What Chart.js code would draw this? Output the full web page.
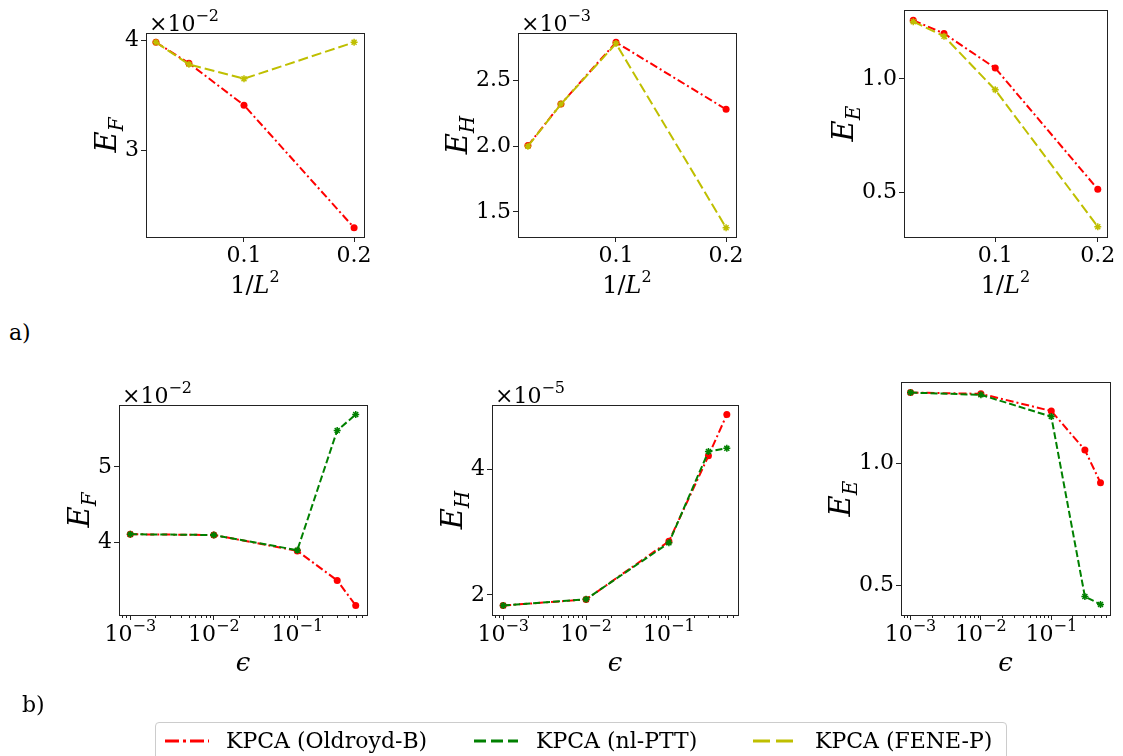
<!DOCTYPE html>
<html lang="en">
<head>
<meta charset="UTF-8">
<title>KPCA errors</title>
<script src="https://cdn.jsdelivr.net/npm/chart.js"></script>
<style>
  body { margin: 0; background: #fff; width: 1123px; height: 756px; overflow: hidden; position: relative;
         font-family: 'DejaVu Serif', 'Liberation Serif', serif; }
  canvas { position: absolute; }
  .tag { position: absolute; font-size: 22px; line-height: 22px; color: #000; }
  .legend { position: absolute; left: 155px; top: 722px; width: 850px; height: 44px; border: 1px solid #ccc;
            border-radius: 4px; background: #fff; }
  .legend svg, .legend span { position: absolute; }
  .legend span { font-size: 22px; line-height: 22px; top: 7px; white-space: nowrap; }
  .legend svg { top: 13px; }
</style>
</head>
<body>

<canvas id="c1"></canvas>
<canvas id="c2"></canvas>
<canvas id="c3"></canvas>
<canvas id="c4"></canvas>
<canvas id="c5"></canvas>
<canvas id="c6"></canvas>

<div class="tag" style="left:9px; top:322px;">a)</div>
<div class="tag" style="left:22px; top:694px;">b)</div>

<div class="legend">
    <svg style="left:9px" width="44" height="10"><line x1="0" y1="5" x2="44" y2="5" stroke="#ff0000" stroke-width="3" stroke-dasharray="14,4,3,4"/></svg>
    <span style="left:70px">KPCA (Oldroyd-B)</span>
    <svg style="left:318px" width="44" height="10"><line x1="0" y1="5" x2="44" y2="5" stroke="#008000" stroke-width="3" stroke-dasharray="12,5"/></svg>
    <span style="left:380px">KPCA (nl-PTT)</span>
    <svg style="left:597px" width="44" height="10"><line x1="0" y1="5" x2="44" y2="5" stroke="#bfbf00" stroke-width="3" stroke-dasharray="17,6"/></svg>
    <span style="left:659px">KPCA (FENE-P)</span>
</div>

<script>
    // ---- data ----
    // a) against 1/L^2
    const invL2 = [0.02, 0.05, 0.1, 0.2];
    const efOldroyd = [3.98e-2, 3.79e-2, 3.41e-2, 2.30e-2];
    const efFene = [3.98e-2, 3.78e-2, 3.65e-2, 3.98e-2];
    const ehOldroyd = [2.005e-3, 2.32e-3, 2.79e-3, 2.28e-3];
    const ehFene = [2.0e-3, 2.32e-3, 2.78e-3, 1.38e-3];
    const eeOldroyd = [1.258, 1.20, 1.048, 0.515];
    const eeFene = [1.252, 1.188, 0.952, 0.35];

    // b) against epsilon
    const eps = [0.001, 0.01, 0.1, 0.3, 0.5];
    const efOldroydEps = [4.11e-2, 4.10e-2, 3.89e-2, 3.50e-2, 3.17e-2];
    const efPtt = [4.11e-2, 4.10e-2, 3.90e-2, 5.48e-2, 5.69e-2];
    const ehOldroydEps = [1.83e-5, 1.925e-5, 2.855e-5, 4.22e-5, 4.88e-5];
    const ehPtt = [1.83e-5, 1.93e-5, 2.83e-5, 4.29e-5, 4.34e-5];
    const eeOldroydEps = [1.288, 1.283, 1.213, 1.054, 0.92];
    const eePtt = [1.288, 1.279, 1.19, 0.456, 0.424];

    // tick values and labels
    const xTicksL = [0.1, 0.2];
    const xLabelsL = ['0.1', '0.2'];
    const xTicksEps = [0.001, 0.01, 0.1];
    const yTicksEF = [0.03, 0.04];           const yLabelsEF = ['3', '4'];
    const yTicksEH = [1.5e-3, 2e-3, 2.5e-3]; const yLabelsEH = ['1.5', '2.0', '2.5'];
    const yTicksEE = [0.5, 1.0];             const yLabelsEE = ['0.5', '1.0'];
    const yTicksEFb = [0.04, 0.05];          const yLabelsEFb = ['4', '5'];
    const yTicksEHb = [2e-5, 4e-5];          const yLabelsEHb = ['2', '4'];

    const FONT = "'DejaVu Serif', 'Liberation Serif', serif";
    const RED = '#ff0000', GREEN = '#008000', YEL = '#bfbf00';
    const ML = 110, MT = 40, MR = 25, MB = 80;
    const TS = 22; // tick font size

    function drawRich(ctx, parts, x, y, align) {
        let w = 0;
        parts.forEach(p => {
            ctx.font = (p.it ? 'italic ' : '') + p.s + 'px ' + FONT;
            p.w = ctx.measureText(p.t).width;
            w += p.w;
        });
        let cx = align == 'center' ? x - w / 2 : (align == 'right' ? x - w : x);
        parts.forEach(p => {
            ctx.font = (p.it ? 'italic ' : '') + p.s + 'px ' + FONT;
            ctx.fillText(p.t, cx, y + (p.dy || 0));
            cx += p.w;
        });
    }

    // draws box, titles, offset text and log tick labels
    const figText = {
        id: 'figText',
        afterDraw(chart, args, o) {
            const ctx = chart.ctx, a = chart.chartArea;
            const xs = chart.scales.x, ys = chart.scales.y;
            ctx.save();
            ctx.strokeStyle = '#222';
            ctx.lineWidth = 1;
            ctx.strokeRect(Math.round(a.left) + 0.5, Math.round(a.top) + 0.5,
                Math.round(a.right - a.left), Math.round(a.bottom - a.top));
            ctx.fillStyle = '#000';
            ctx.textBaseline = 'alphabetic';

            if (o.log) {
                xs.ticks.forEach(t => {
                    const px = xs.getPixelForValue(t.value);
                    if (t.major) {
                        const p = Math.round(-Math.log10(t.value));
                        drawRich(ctx, [{ t: '10', s: TS }, { t: '\u2212' + p, s: 16, dy: -10 }], px, a.bottom + 26, 'center');
                    } else {
                        ctx.beginPath();
                        ctx.moveTo(Math.round(px) + 0.5, a.bottom);
                        ctx.lineTo(Math.round(px) + 0.5, a.bottom + 3);
                        ctx.stroke();
                    }
                });
            }

            // y title, left of the widest tick label
            ctx.font = TS + 'px ' + FONT;
            let maxw = 0;
            ys.ticks.forEach(t => { maxw = Math.max(maxw, ctx.measureText(t.label || '').width); });
            const x0 = a.left - 7 - maxw - 9;
            ctx.save();
            ctx.translate(x0, (a.top + a.bottom) / 2);
            ctx.rotate(-Math.PI / 2);
            drawRich(ctx, [{ t: 'E', s: 29, it: true }, { t: o.sub, s: 20, it: true, dy: 7 }], 0, 0, 'center');
            ctx.restore();

            // x title
            const xt = o.log
                ? [{ t: '\u03f5', s: 26, it: true }]
                : [{ t: '1/', s: 24 }, { t: 'L', s: 24, it: true }, { t: '2', s: 16, dy: -11 }];
            drawRich(ctx, xt, (a.left + a.right) / 2, a.bottom + 56, 'center');

            if (o.offset) {
                drawRich(ctx, [{ t: '\u00d710', s: TS }, { t: '\u2212' + o.offset, s: 16, dy: -10 }], a.left + 3, a.top - 2, 'left');
            }
            ctx.restore();
        }
    };

    function limits(arrs, log) {
        let all = [].concat(...arrs);
        if (log) all = all.map(Math.log10);
        const lo = Math.min(...all), hi = Math.max(...all), m = (hi - lo) * 0.05;
        return log ? [Math.pow(10, lo - m), Math.pow(10, hi + m)] : [lo - m, hi + m];
    }

    function logTicks(min, max) {
        const out = [];
        for (let d = Math.floor(Math.log10(min)); d <= Math.ceil(Math.log10(max)); d++) {
            for (let k = 1; k < 10; k++) {
                const v = k * Math.pow(10, d);
                if (v >= min && v <= max) out.push({ value: v, major: k == 1 });
            }
        }
        return out;
    }

    function serie(label, xs, ys, kind) {
        const st = {
            red: { c: RED, dash: [8, 3, 2, 3], ps: 'circle', r: 3.5, order: 2 },
            green: { c: GREEN, dash: [7, 3], ps: 'star', r: 3.5, order: 1 },
            yellow: { c: YEL, dash: [10, 4], ps: 'star', r: 3.5, order: 1 }
        }[kind];
        return {
            label: label,
            data: xs.map((x, i) => ({ x: x, y: ys[i] })),
            borderColor: st.c,
            backgroundColor: st.c,
            borderWidth: 2,
            borderDash: st.dash,
            pointStyle: st.ps,
            pointRadius: st.r,
            pointBackgroundColor: st.c,
            pointBorderColor: st.c,
            pointBorderWidth: st.ps == 'star' ? 1.5 : 0,
            tension: 0,
            fill: false,
            order: st.order
        };
    }

    function plot(id, box, datasets, xLog, xTicks, xLabels, yTicks, yLabels, sub, offset) {
        const cv = document.getElementById(id);
        const W = box[2] - box[0] + ML + MR, H = box[3] - box[1] + MT + MB;
        cv.width = W; cv.height = H;
        cv.style.left = (box[0] - ML) + 'px';
        cv.style.top = (box[1] - MT) + 'px';
        cv.style.width = W + 'px'; cv.style.height = H + 'px';

        const xl = limits(datasets.map(d => d.data.map(p => p.x)), xLog);
        const yl = limits(datasets.map(d => d.data.map(p => p.y)), false);
        const tickFont = { family: FONT, size: TS, lineHeight: 1 };
        const grid = { drawOnChartArea: false, drawTicks: true, tickLength: 5, color: '#222' };

        new Chart(cv, {
            type: 'line',
            data: { datasets: datasets },
            options: {
                responsive: false,
                animation: false,
                layout: { padding: { top: MT, right: MR, left: 0, bottom: 0 } },
                scales: {
                    x: {
                        type: xLog ? 'logarithmic' : 'linear',
                        min: xl[0], max: xl[1],
                        afterBuildTicks: s => {
                            s.ticks = xLog ? logTicks(xl[0], xl[1]) : xTicks.map(v => ({ value: v }));
                        },
                        afterFit: s => { s.height = MB; },
                        ticks: {
                            callback: (v, i) => xLog ? '' : xLabels[i],
                            font: tickFont, color: '#000', padding: 3,
                            maxRotation: 0, autoSkip: false
                        },
                        grid: Object.assign({}, grid, {
                            tickColor: c => (xLog && c.tick && !c.tick.major) ? 'rgba(0,0,0,0)' : '#222'
                        }),
                        border: { display: true, color: '#222', width: 1 }
                    },
                    y: {
                        type: 'linear',
                        min: yl[0], max: yl[1],
                        afterBuildTicks: s => { s.ticks = yTicks.map(v => ({ value: v })); },
                        afterFit: s => { s.width = ML; },
                        ticks: {
                            callback: (v, i) => yLabels[i],
                            font: tickFont, color: '#000', padding: 2, autoSkip: false
                        },
                        grid: grid,
                        border: { display: true, color: '#222', width: 1 }
                    }
                },
                plugins: {
                    legend: { display: false },
                    tooltip: { enabled: false },
                    figText: { sub: sub, offset: offset, log: xLog }
                }
            },
            plugins: [figText]
        });
    }

    plot('c1', [146, 33, 364, 237],
        [serie('KPCA (Oldroyd-B)', invL2, efOldroyd, 'red'), serie('KPCA (FENE-P)', invL2, efFene, 'yellow')],
        false, xTicksL, xLabelsL, yTicksEF, yLabelsEF, 'F', '2');
    plot('c2', [518, 33, 736, 237],
        [serie('KPCA (Oldroyd-B)', invL2, ehOldroyd, 'red'), serie('KPCA (FENE-P)', invL2, ehFene, 'yellow')],
        false, xTicksL, xLabelsL, yTicksEH, yLabelsEH, 'H', '3');
    plot('c3', [904, 10, 1107, 237],
        [serie('KPCA (Oldroyd-B)', invL2, eeOldroyd, 'red'), serie('KPCA (FENE-P)', invL2, eeFene, 'yellow')],
        false, xTicksL, xLabelsL, yTicksEE, yLabelsEE, 'E', null);

    plot('c4', [119, 405, 367, 615],
        [serie('KPCA (Oldroyd-B)', eps, efOldroydEps, 'red'), serie('KPCA (nl-PTT)', eps, efPtt, 'green')],
        true, xTicksEps, null, yTicksEFb, yLabelsEFb, 'F', '2');
    plot('c5', [492, 405, 738, 615],
        [serie('KPCA (Oldroyd-B)', eps, ehOldroydEps, 'red'), serie('KPCA (nl-PTT)', eps, ehPtt, 'green')],
        true, xTicksEps, null, yTicksEHb, yLabelsEHb, 'H', '5');
    plot('c6', [901, 382, 1110, 615],
        [serie('KPCA (Oldroyd-B)', eps, eeOldroydEps, 'red'), serie('KPCA (nl-PTT)', eps, eePtt, 'green')],
        true, xTicksEps, null, yTicksEE, yLabelsEE, 'E', null);
</script>
</body>
</html>
